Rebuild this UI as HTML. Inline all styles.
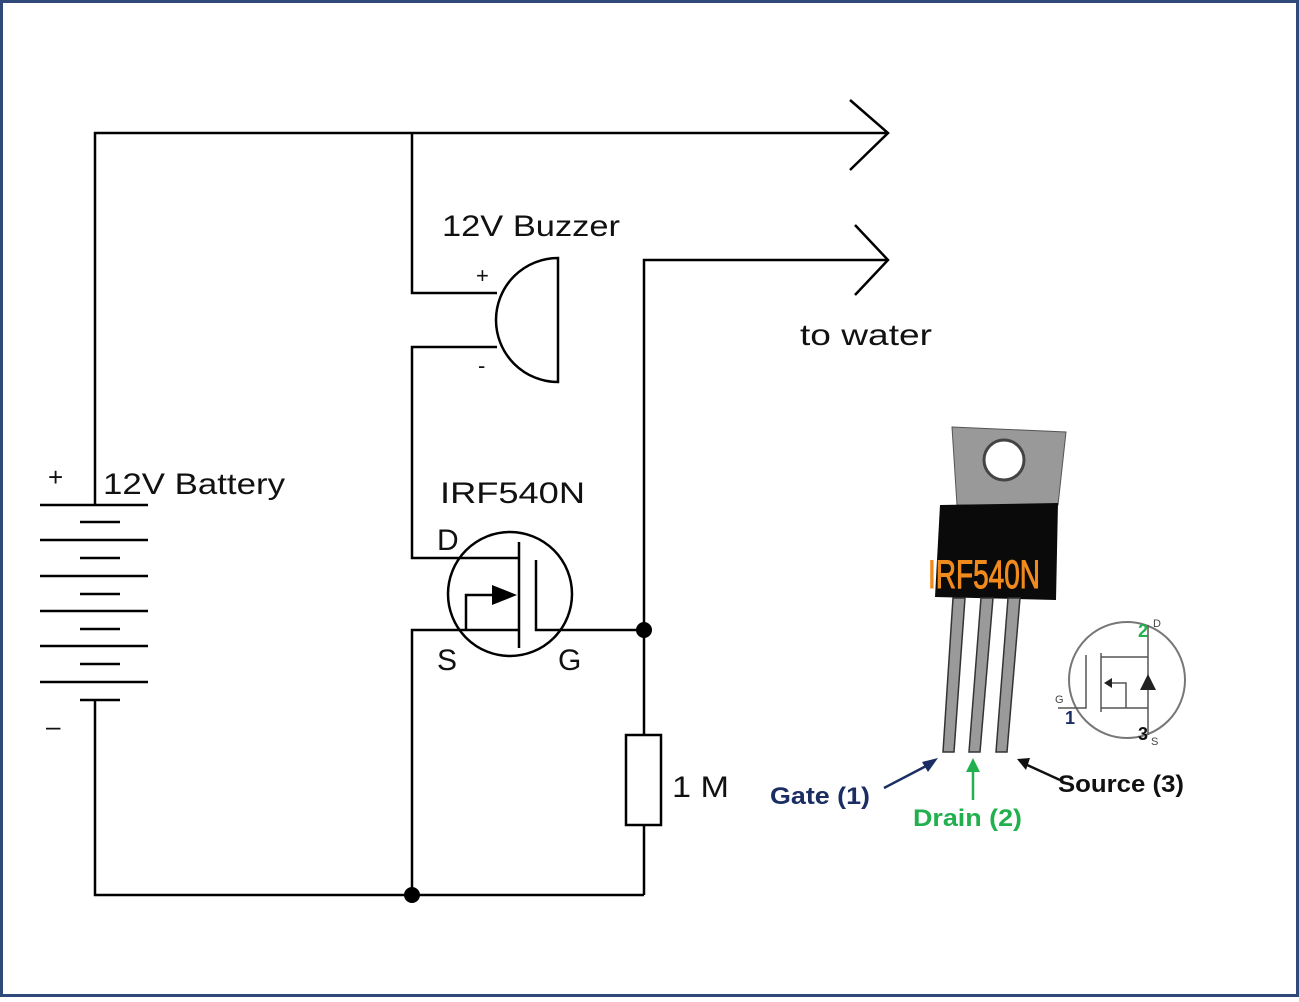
<!DOCTYPE html>
<html><head><style>
body{margin:0;width:1299px;height:997px;overflow:hidden;background:#fff;font-family:"Liberation Sans",sans-serif}
</style></head><body>
<svg width="1299" height="997" viewBox="0 0 1299 997" xmlns="http://www.w3.org/2000/svg">
<rect x="1.5" y="1.5" width="1296" height="994" fill="#fff" stroke="#2f4a78" stroke-width="3"/>
<g stroke="#000" stroke-width="2.5" fill="none">
<polyline points="95,505 95,133 888,133"/>
<polyline points="850,100 888,133 850,170"/>
<polyline points="855,225 888,260 855,295"/>
<polyline points="412,133 412,293 497,293"/>
<polyline points="497,347 412,347 412,558 519,558"/>
<path d="M558,258 A62,62 0 0 0 558,382 Z"/>
<circle cx="510" cy="594" r="62"/>
<line x1="519" y1="542" x2="519" y2="648"/>
<polyline points="536,560 536,630 644,630"/>
<polyline points="412,895 412,630 519,630"/>
<polyline points="466,630 466,595 495,595"/>
<polyline points="644,895 644,260 888,260"/>
<rect x="626" y="735" width="35" height="90" fill="#fff"/>
<polyline points="95,700 95,895 644,895"/>
<line x1="40" y1="505" x2="148" y2="505"/><line x1="80" y1="522" x2="120" y2="522"/>
<line x1="40" y1="540" x2="148" y2="540"/><line x1="80" y1="558" x2="120" y2="558"/>
<line x1="40" y1="576" x2="148" y2="576"/><line x1="80" y1="594" x2="120" y2="594"/>
<line x1="40" y1="611" x2="148" y2="611"/><line x1="80" y1="629" x2="120" y2="629"/>
<line x1="40" y1="646" x2="148" y2="646"/><line x1="80" y1="664" x2="120" y2="664"/>
<line x1="40" y1="682" x2="148" y2="682"/><line x1="80" y1="700" x2="120" y2="700"/>
</g>
<polygon points="492,585 517,595 492,605" fill="#000"/>
<circle cx="644" cy="630" r="8" fill="#000"/>
<circle cx="412" cy="895" r="8" fill="#000"/>
<g font-family="Liberation Sans,sans-serif" fill="#111" font-size="30">
<text x="442" y="236" textLength="178" lengthAdjust="spacingAndGlyphs">12V Buzzer</text>
<text x="476" y="283" font-size="22">+</text>
<text x="478" y="373" font-size="22">-</text>
<text x="800" y="345" textLength="132" lengthAdjust="spacingAndGlyphs">to water</text>
<text x="103" y="494" textLength="182" lengthAdjust="spacingAndGlyphs">12V Battery</text>
<text x="48" y="486" font-size="26">+</text>
<text x="46" y="735" font-size="26">–</text>
<text x="440" y="503" textLength="145" lengthAdjust="spacingAndGlyphs">IRF540N</text>
<text x="437" y="550">D</text>
<text x="437" y="670">S</text>
<text x="558" y="670">G</text>
<text x="672" y="797" textLength="57" lengthAdjust="spacingAndGlyphs">1 M</text>
</g>
<!-- transistor photo -->
<polygon points="952,427 1066,432 1058,505 957,505" fill="#999" stroke="#555"/>
<circle cx="1004" cy="460" r="20" fill="#fff" stroke="#444" stroke-width="3"/>
<path d="M940,505 L1058,503 L1056,600 L935,597 Z" fill="#0a0a0a"/>
<text x="928" y="588" font-family="Liberation Sans,sans-serif" font-size="40" fill="#f08a1c" stroke="#f08a1c" stroke-width="1" textLength="112" lengthAdjust="spacingAndGlyphs">IRF540N</text>
<g fill="#9a9a9a" stroke="#333" stroke-width="1.5">
<polygon points="953,598 965,598 954,752 943,752"/>
<polygon points="981,598 993,598 980,752 969,752"/>
<polygon points="1008,598 1020,598 1007,752 996,752"/>
</g>
<circle cx="1127" cy="680" r="58" fill="none" stroke="#777" stroke-width="2"/>
<g stroke="#555" stroke-width="1.5" fill="none">
<polyline points="1058,708 1086,708 1086,655"/>
<line x1="1101" y1="653" x2="1101" y2="712"/>
<polyline points="1101,657 1148,657"/>
<polyline points="1101,708 1148,708"/>
<line x1="1148" y1="625" x2="1148" y2="735"/>
<polyline points="1108,683 1126,683 1126,708"/>
</g>
<polygon points="1140,690 1156,690 1148,674" fill="#222"/>
<polygon points="1104,683 1112,678 1112,688" fill="#222"/>
<g font-family="Liberation Sans,sans-serif" font-weight="bold" font-size="24">
<text x="770" y="804" fill="#1b2e63" textLength="100" lengthAdjust="spacingAndGlyphs">Gate (1)</text>
<text x="913" y="826" fill="#22b04e" textLength="109" lengthAdjust="spacingAndGlyphs">Drain (2)</text>
<text x="1058" y="792" fill="#111" textLength="126" lengthAdjust="spacingAndGlyphs">Source (3)</text>
<text x="1138" y="637" fill="#22b04e" font-size="18">2</text>
<text x="1065" y="724" fill="#1b2e63" font-size="18">1</text>
<text x="1138" y="740" fill="#111" font-size="18">3</text>
</g>
<g font-family="Liberation Sans,sans-serif" font-size="11" fill="#444">
<text x="1153" y="627">D</text><text x="1055" y="703">G</text><text x="1151" y="745">S</text>
</g>
<g stroke-width="2.5">
<line x1="884" y1="788" x2="930" y2="764" stroke="#1b2e63"/>
<polygon points="938,758 922,762 928,772" fill="#1b2e63"/>
<line x1="973" y1="800" x2="973" y2="768" stroke="#22b04e"/>
<polygon points="973,758 966,772 980,772" fill="#22b04e"/>
<line x1="1060" y1="780" x2="1025" y2="764" stroke="#111"/>
<polygon points="1017,759 1030,758 1026,770" fill="#111"/>
</g>
</svg>
</body></html>
